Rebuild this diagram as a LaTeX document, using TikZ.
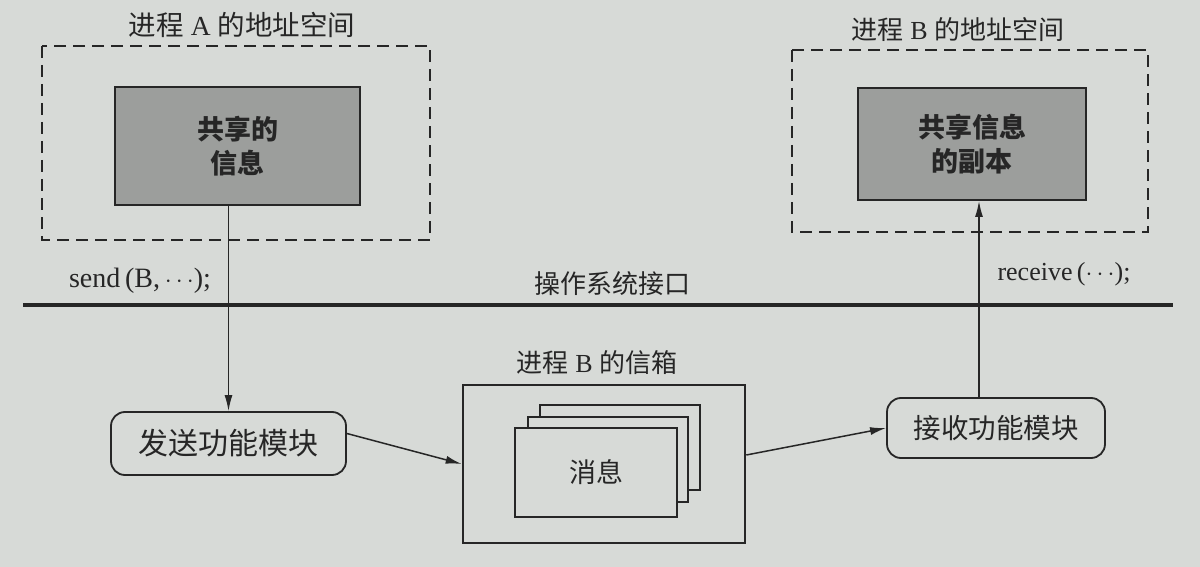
\documentclass[tikz,border=0pt]{standalone}
\usepackage{fontspec}
\setmainfont{Liberation Serif}
\newfontfamily\cjk{Noto Sans CJK SC}
\usetikzlibrary{arrows.meta}
\definecolor{paper}{HTML}{D7DAD7}
\definecolor{shade}{HTML}{9C9E9C}
\definecolor{ink}{HTML}{262626}
\newcommand{\zh}[1]{{\cjk #1}}
\tikzset{
  txt/.style={text=ink, inner sep=0pt},
  big/.style={font=\fontsize{26}{30}\selectfont},
  dashbox/.style={draw=ink, line width=1.6pt, dash pattern=on 12pt off 7pt},
  graybox/.style={draw=ink, fill=shade, line width=1.8pt, text=ink, align=center,
    font=\fontsize{27}{34}\selectfont\cjk\bfseries},
  modbox/.style={draw=ink, line width=1.8pt, rounded corners=14pt, text=ink},
  sheet/.style={draw=ink, fill=paper, line width=1.6pt},
  arr/.style={draw=ink, line width=1.5pt, -{Latex[length=16pt,width=8pt]}},
}
\begin{document}
\begin{tikzpicture}[x=1pt,y=-1pt]
\useasboundingbox (0,0) rectangle (1200,567);
\fill[paper] (0,0) rectangle (1200,567);

% process A
\node[txt,font=\fontsize{27.5}{30}\selectfont] (titleA) at (242,25) {\zh{进程} A \zh{的地址空间}};
\draw[dashbox] (42,46) rectangle (430,240);
\node[graybox, minimum width=245pt, minimum height=118pt] (grayA) at (237.5,146) {共享的\\信息};

% process B
\node[txt,big] (titleB) at (958,30) {\zh{进程} B \zh{的地址空间}};
\draw[dashbox] (792,50) rectangle (1148,232);
\node[graybox, minimum width=228pt, minimum height=112pt] (grayB) at (972,144) {共享信息\\的副本};

% OS interface
\coordinate (osL) at (23,305);
\coordinate (osR) at (1173,305);
\draw[ink, line width=4pt] (osL) -- (osR);
\node[txt,big] (oslabel) at (612,284) {\zh{操作系统接口}};
\node[txt,font=\fontsize{28}{30}\selectfont] (sendlbl) at (140,281) {send\,(B,\,$\cdots$);};
\node[txt,font=\fontsize{26}{30}\selectfont] (recvlbl) at (1064,274) {receive\,($\cdots$);};

% modules
\node[modbox, minimum width=235pt, minimum height=63pt, font=\fontsize{30}{32}\selectfont\cjk] (sendmod) at (228.5,443.5) {发送功能模块};
\node[modbox, minimum width=218pt, minimum height=60pt, font=\fontsize{27.5}{30}\selectfont\cjk] (recvmod) at (996,428) {接收功能模块};

% mailbox
\node[txt,big] (mbtitle) at (597,363) {\zh{进程} B \zh{的信箱}};
\node[draw=ink, line width=2.6pt, minimum width=282pt, minimum height=158pt, inner sep=0pt] (mailbox) at (604,464) {};
\draw[sheet] (540,405) rectangle (700,490);
\draw[sheet] (528,417) rectangle (688,502);
\node[sheet, minimum width=162pt, minimum height=89pt, inner sep=0pt, text=ink,
  font=\fontsize{27}{30}\selectfont\cjk] (msg) at (596,472.5) {消息};

% connectors
\draw[arr] (grayA.south -| sendmod.north) -- (sendmod.north);
\draw[arr] ([yshift=10pt]sendmod.east) -- (mailbox.west);
\draw[arr] ([yshift=9pt]mailbox.east) -- (recvmod.west);
\coordinate (bIn) at ([xshift=7pt]grayB.south);
\draw[arr] (recvmod.north -| bIn) -- (bIn);
\end{tikzpicture}
\end{document}
